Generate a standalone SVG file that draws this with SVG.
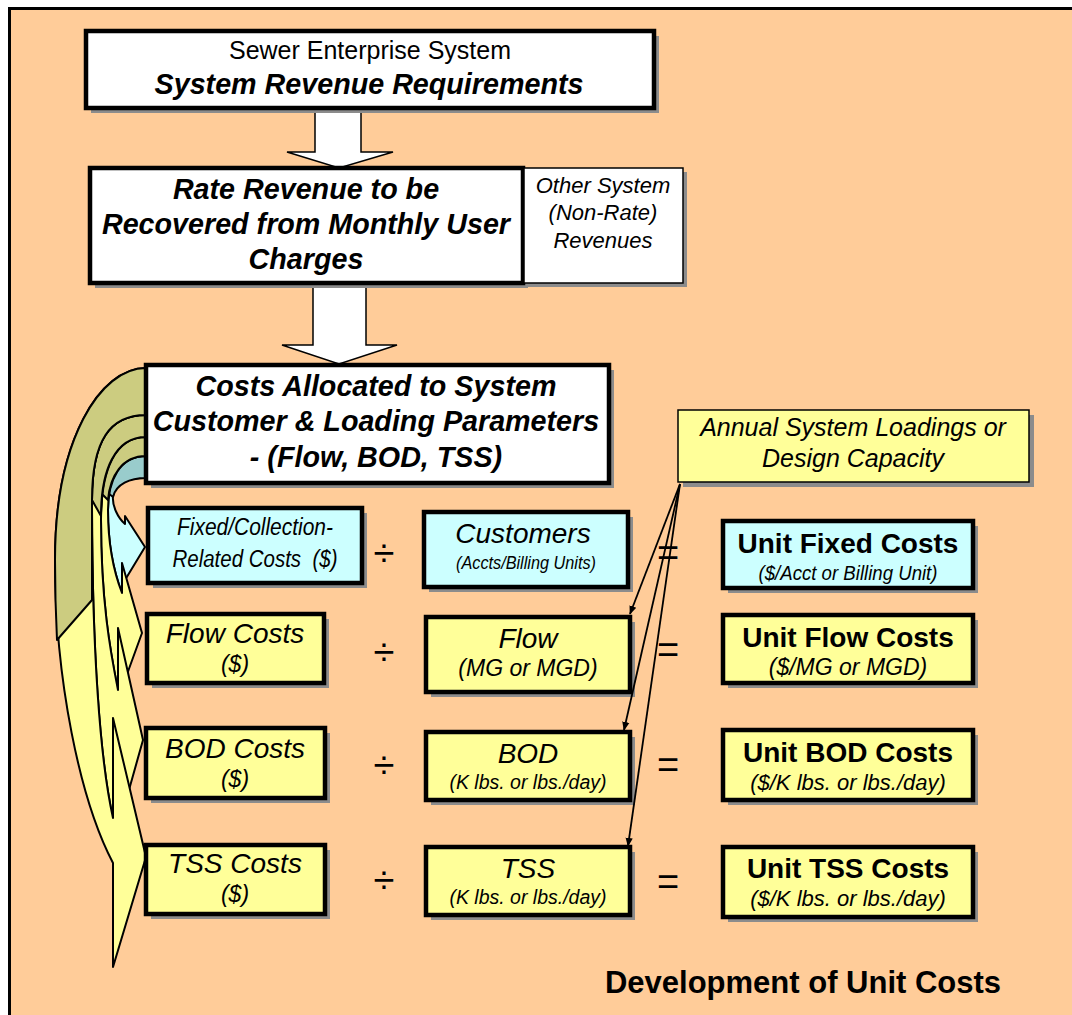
<svg xmlns="http://www.w3.org/2000/svg" width="1072" height="1015" viewBox="0 0 1072 1015">
<defs>
<style>
.t{font-family:"Liberation Sans",Arial,sans-serif;fill:#000;text-anchor:middle}
.bi{font-weight:bold;font-style:italic}
.b{font-weight:bold}
.i{font-style:italic}
.box{stroke:#000;stroke-width:4.5}
.thin{stroke:#000;stroke-width:1.5}
.sh{fill:#8c8c8c}
.blk{fill:#fff;stroke:#000;stroke-width:1.5}
.ca{stroke:#000;stroke-width:2;stroke-linejoin:round}
.ln{stroke:#000;stroke-width:1.8;fill:none}
.op{font-size:38px}
</style>
<marker id="ah" viewBox="0 0 10 10" refX="9" refY="5" markerWidth="9" markerHeight="9" markerUnits="userSpaceOnUse" orient="auto">
<path d="M0,1 L10,5 L0,9 Z" fill="#000"/>
</marker>
</defs>
<rect x="9.5" y="8.5" width="1080" height="1030" fill="#FFCC99" stroke="#000" stroke-width="3"/>

<g id="block-arrows">
<path class="blk" d="M315,108 L361,108 L361,152 L393,152 L339,168 L287,152 L315,152 Z"/>
<path class="blk" d="M313,285 L366,285 L366,345 L397,345 L339,364 L282,345 L313,345 Z"/>
</g>

<g id="curved-arrows">
<g id="arrow-fixed">
<path class="ca" fill="#CCFFFF" d="M146,456 C120,456 108,480 108,510 C108,550 115,575 122,593 L125,580 L145,547 L125,516 L125,524 C118,518 112,506 113,496 C115,482 130,478 146,478 Z"/>
<path class="ca" fill="#99CCCC" d="M146,456 C125,456 110,470 108,493 L113,497 C116,484 130,478 146,478 Z"/>
</g>
<g id="arrow-flow">
<path class="ca" fill="#FFFF99" d="M146,437 C115,437 101,470 101,520 C101,600 110,650 118,690 L122,688 L142,633 L122,563 L122,593 C115,575 108,550 108,510 C108,480 120,456 146,456 Z"/>
<path class="ca" fill="#CCCC80" d="M146,437 C118,437 103,462 102,494 L108,500 C110,476 122,456 146,456 Z"/>
</g>
<g id="arrow-bod">
<path class="ca" fill="#FFFF99" d="M146,415 C110,415 92,440 92,500 C92,650 100,760 113,818 L118,829 L143,740 L118,628 L118,690 C110,650 101,600 101,520 C101,470 115,437 146,437 Z"/>
<path class="ca" fill="#CCCC80" d="M146,415 C110,415 92,440 92,500 L101,516 C101,470 115,437 146,437 Z"/>
</g>
<g id="arrow-tss">
<path class="ca" fill="#FFFF99" d="M146,368 C100,368 55,440 55,560 C55,680 80,800 113,863 L113,967 L146,857 L113,718 L113,818 C100,760 92,650 92,500 C92,440 110,415 146,415 Z"/>
<path class="ca" fill="#CCCC80" d="M146,368 C100,368 55,440 55,560 C55,600 56,620 57,640 L92,600 L92,500 C92,440 110,415 146,415 Z"/>
</g>
</g>

<g id="n-sewer">
<rect class="sh" x="91" y="36" width="568" height="77"/>
<rect class="box" x="86" y="31" width="568" height="77" fill="#fff"/>
<text class="t" x="370" y="59" font-size="25">Sewer Enterprise System</text>
<text class="t bi" x="369" y="94" font-size="28.7">System Revenue Requirements</text>
</g>

<g id="n-rate">
<rect class="sh" x="95" y="173" width="433" height="115"/>
<rect class="box" x="90" y="168" width="433" height="115" fill="#fff"/>
<text class="t bi" x="306" y="199" font-size="28.7">Rate Revenue to be</text>
<text class="t bi" x="306" y="234" font-size="28.7">Recovered from Monthly User</text>
<text class="t bi" x="306" y="269" font-size="28.7">Charges</text>
</g>

<g id="n-other">
<rect class="sh" x="528" y="172" width="159" height="115"/>
<rect class="thin" x="524" y="168" width="159" height="115" fill="#fff"/>
<text class="t i" x="603" y="193" font-size="22">Other System</text>
<text class="t i" x="603" y="220" font-size="22">(Non-Rate)</text>
<text class="t i" x="603" y="248" font-size="22">Revenues</text>
</g>

<g id="n-costs">
<rect class="sh" x="151" y="370" width="463" height="118"/>
<rect class="box" x="146" y="365" width="463" height="118" fill="#fff"/>
<text class="t bi" x="376" y="396" font-size="28.7">Costs Allocated to System</text>
<text class="t bi" x="376" y="431" font-size="28.7">Customer &amp; Loading Parameters</text>
<text class="t bi" x="376" y="467" font-size="28.7">- (Flow, BOD, TSS)</text>
</g>

<g id="n-annual">
<rect class="sh" x="683" y="415" width="351" height="72"/>
<rect class="thin" x="678" y="410" width="351" height="72" fill="#FFFF99"/>
<text class="t i" x="853" y="436" font-size="25">Annual System Loadings or</text>
<text class="t i" x="853" y="467" font-size="25">Design Capacity</text>
</g>

<g id="n-fixed">
<rect class="sh" x="153" y="513" width="214" height="75"/>
<rect class="box" x="148" y="508" width="214" height="75" fill="#CCFFFF"/>
<text class="t i" x="255" y="535" font-size="23" textLength="156" lengthAdjust="spacingAndGlyphs">Fixed/Collection-</text>
<text class="t i" x="255" y="567" font-size="23" textLength="165" lengthAdjust="spacingAndGlyphs" xml:space="preserve">Related Costs  ($)</text>
</g>

<g id="n-customers">
<rect class="sh" x="429" y="517" width="204" height="75"/>
<rect class="box" x="424" y="512" width="204" height="75" fill="#CCFFFF"/>
<text class="t i" x="523" y="543" font-size="28">Customers</text>
<text class="t i" x="526" y="569" font-size="18" textLength="140" lengthAdjust="spacingAndGlyphs">(Accts/Billing Units)</text>
</g>

<g id="n-unit-fixed">
<rect class="sh" x="728" y="526" width="250" height="67"/>
<rect class="box" x="723" y="521" width="250" height="67" fill="#CCFFFF"/>
<text class="t b" x="848" y="553" font-size="28">Unit Fixed Costs</text>
<text class="t i" x="848" y="580" font-size="20" textLength="179" lengthAdjust="spacingAndGlyphs">($/Acct or Billing Unit)</text>
</g>

<g id="n-flow-costs">
<rect class="sh" x="152" y="619" width="177" height="69"/>
<rect class="box" x="147" y="614" width="177" height="69" fill="#FFFF99"/>
<text class="t i" x="235" y="643" font-size="28">Flow Costs</text>
<text class="t i" x="235" y="672" font-size="23">($)</text>
</g>

<g id="n-flow">
<rect class="sh" x="431" y="622" width="204" height="75"/>
<rect class="box" x="426" y="617" width="204" height="75" fill="#FFFF99"/>
<text class="t i" x="528" y="648" font-size="28">Flow</text>
<text class="t i" x="528" y="676" font-size="23">(MG or MGD)</text>
</g>

<g id="n-unit-flow">
<rect class="sh" x="728" y="620" width="250" height="68"/>
<rect class="box" x="723" y="615" width="250" height="68" fill="#FFFF99"/>
<text class="t b" x="848" y="647" font-size="28">Unit Flow Costs</text>
<text class="t i" x="848" y="675" font-size="23">($/MG or MGD)</text>
</g>

<g id="n-bod-costs">
<rect class="sh" x="151" y="733" width="179" height="70"/>
<rect class="box" x="146" y="728" width="179" height="70" fill="#FFFF99"/>
<text class="t i" x="235" y="758" font-size="28">BOD Costs</text>
<text class="t i" x="235" y="787" font-size="23">($)</text>
</g>

<g id="n-bod">
<rect class="sh" x="431" y="737" width="204" height="68"/>
<rect class="box" x="426" y="732" width="204" height="68" fill="#FFFF99"/>
<text class="t i" x="528" y="763" font-size="28">BOD</text>
<text class="t i" x="528" y="789" font-size="19.5">(K lbs. or lbs./day)</text>
</g>

<g id="n-unit-bod">
<rect class="sh" x="728" y="735" width="250" height="70"/>
<rect class="box" x="723" y="730" width="250" height="70" fill="#FFFF99"/>
<text class="t b" x="848" y="762" font-size="28">Unit BOD Costs</text>
<text class="t i" x="848" y="790" font-size="22">($/K lbs. or lbs./day)</text>
</g>

<g id="n-tss-costs">
<rect class="sh" x="151" y="850" width="179" height="69"/>
<rect class="box" x="146" y="845" width="179" height="69" fill="#FFFF99"/>
<text class="t i" x="235" y="873" font-size="28">TSS Costs</text>
<text class="t i" x="235" y="902" font-size="23">($)</text>
</g>

<g id="n-tss">
<rect class="sh" x="431" y="852" width="204" height="68"/>
<rect class="box" x="426" y="847" width="204" height="68" fill="#FFFF99"/>
<text class="t i" x="528" y="878" font-size="28">TSS</text>
<text class="t i" x="528" y="904" font-size="19.5">(K lbs. or lbs./day)</text>
</g>

<g id="n-unit-tss">
<rect class="sh" x="728" y="852" width="250" height="70"/>
<rect class="box" x="723" y="847" width="250" height="70" fill="#FFFF99"/>
<text class="t b" x="848" y="878" font-size="28">Unit TSS Costs</text>
<text class="t i" x="848" y="906" font-size="22">($/K lbs. or lbs./day)</text>
</g>

<g id="operators">
<text class="t op" x="384" y="566">÷</text>
<text class="t op" x="384" y="665">÷</text>
<text class="t op" x="384" y="778">÷</text>
<text class="t op" x="384" y="893">÷</text>
<text class="t op" x="668" y="566">=</text>
<text class="t op" x="668" y="663">=</text>
<text class="t op" x="668" y="778">=</text>
<text class="t op" x="668" y="895">=</text>
</g>

<g id="connectors">
<line class="ln" x1="680" y1="484" x2="630" y2="614" marker-end="url(#ah)"/>
<line class="ln" x1="680" y1="484" x2="624" y2="730" marker-end="url(#ah)"/>
<line class="ln" x1="680" y1="484" x2="628" y2="846" marker-end="url(#ah)"/>
</g>

<text class="t b" x="803" y="993" font-size="31">Development of Unit Costs</text>
</svg>
